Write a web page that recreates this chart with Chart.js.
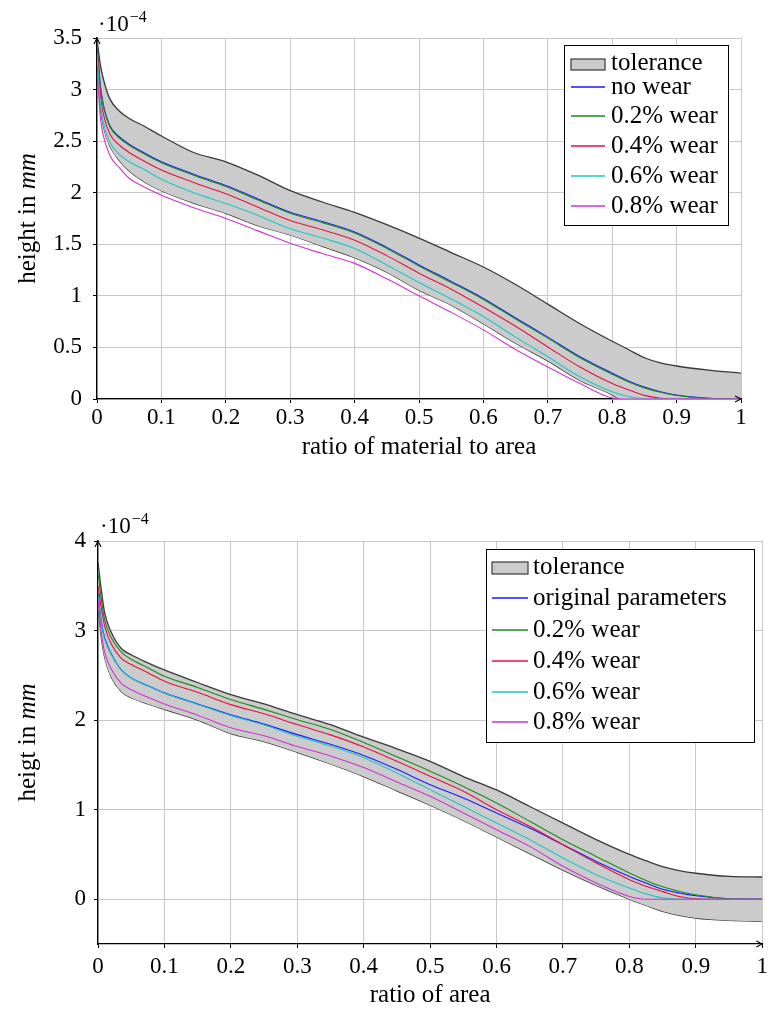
<!DOCTYPE html>
<html>
<head>
<meta charset="utf-8">
<script src="https://cdn.jsdelivr.net/npm/chart.js@4.4.1/dist/chart.umd.min.js"></script>
<style>
  html, body { margin: 0; padding: 0; background: #fff; }
  #wrap { position: relative; width: 773px; height: 1010px; }
  canvas { position: absolute; left: 0; }
  #topChart { top: 0; width: 773px; height: 480px; }
  #bottomChart { top: 480px; width: 773px; height: 530px; }
</style>
</head>
<body>
<div id="wrap">
  <canvas id="topChart" width="773" height="480"></canvas>
  <canvas id="bottomChart" width="773" height="530"></canvas>
</div>
<script>
// shared x positions (ratio), values in units of 1e-4 mm
let xs = [0, 0.005, 0.01, 0.02, 0.035, 0.05, 0.075, 0.1, 0.15, 0.2, 0.25, 0.3, 0.35, 0.4, 0.45,
          0.5, 0.55, 0.6, 0.65, 0.7, 0.75, 0.8, 0.825, 0.85, 0.875, 0.9, 0.95, 1];

// top chart
let tolUpperTop = [3.49, 3.25, 3.10, 2.91, 2.79, 2.72, 2.64, 2.55, 2.39, 2.30, 2.17, 2.02, 1.91, 1.81, 1.69,
                   1.56, 1.42, 1.28, 1.11, 0.92, 0.73, 0.56, 0.48, 0.40, 0.35, 0.32, 0.28, 0.25];
let tolLowerTop = [3.32, 2.84, 2.64, 2.45, 2.31, 2.21, 2.10, 2.02, 1.90, 1.80, 1.68, 1.59, 1.48, 1.37, 1.23,
                   1.055, 0.91, 0.73, 0.54, 0.37, 0.18, 0.04, -0.06, -0.14, -0.19, -0.22, -0.24, -0.25];
let noWearTop   = [3.48, 3.05, 2.85, 2.65, 2.54, 2.47, 2.38, 2.30, 2.18, 2.07, 1.94, 1.81, 1.72, 1.62, 1.47,
                   1.30, 1.14, 0.975, 0.785, 0.60, 0.41, 0.25, 0.175, 0.115, 0.07, 0.038, 0.008, 0];
let wear02Top   = [3.47, 3.04, 2.84, 2.64, 2.53, 2.46, 2.37, 2.29, 2.17, 2.06, 1.93, 1.80, 1.71, 1.61, 1.46,
                   1.29, 1.13, 0.965, 0.775, 0.59, 0.40, 0.24, 0.168, 0.108, 0.065, 0.034, 0.006, 0];
let wear04Top   = [3.42, 2.96, 2.76, 2.57, 2.46, 2.39, 2.30, 2.22, 2.10, 1.99, 1.86, 1.73, 1.64, 1.54, 1.39,
                   1.22, 1.065, 0.89, 0.705, 0.505, 0.31, 0.15, 0.09, 0.035, 0.008, 0, 0, 0];
let wear06Top   = [3.35, 2.88, 2.68, 2.49, 2.37, 2.30, 2.22, 2.13, 2.00, 1.895, 1.78, 1.65, 1.56, 1.46, 1.30,
                   1.13, 0.97, 0.80, 0.60, 0.41, 0.215, 0.07, 0.025, 0.003, 0, 0, 0, 0];
let wear08Top   = [3.22, 2.74, 2.55, 2.36, 2.24, 2.14, 2.05, 1.975, 1.855, 1.75, 1.63, 1.51, 1.41, 1.315, 1.165,
                   1.00, 0.84, 0.67, 0.48, 0.31, 0.15, 0.01, 0, 0, 0, 0, 0, 0];

// bottom chart
let tolUpperBottom = [3.76, 3.45, 3.20, 2.98, 2.80, 2.73, 2.64, 2.56, 2.42, 2.285, 2.18, 2.06, 1.95, 1.81, 1.68,
                      1.54, 1.37, 1.22, 1.035, 0.85, 0.665, 0.50, 0.43, 0.365, 0.32, 0.29, 0.255, 0.248];
let tolLowerBottom = [3.30, 2.92, 2.70, 2.48, 2.32, 2.25, 2.18, 2.12, 2.00, 1.85, 1.76, 1.64, 1.51, 1.37, 1.21,
                      1.05, 0.88, 0.695, 0.51, 0.325, 0.155, 0.0, -0.07, -0.135, -0.18, -0.21, -0.237, -0.248];
let origBottom     = [3.42, 3.10, 2.92, 2.74, 2.56, 2.47, 2.385, 2.304, 2.18, 2.06, 1.955, 1.838, 1.73, 1.605, 1.45,
                      1.279, 1.13, 0.963, 0.795, 0.609, 0.422, 0.255, 0.18, 0.112, 0.07, 0.039, 0.006, 0];
let wear02Bottom   = [3.64, 3.35, 3.12, 2.92, 2.76, 2.68, 2.585, 2.49, 2.365, 2.23, 2.12, 2.005, 1.895, 1.75, 1.59,
                      1.43, 1.26, 1.075, 0.87, 0.665, 0.478, 0.293, 0.21, 0.14, 0.09, 0.05, 0.005, 0];
let wear04Bottom   = [3.50, 3.25, 3.05, 2.85, 2.69, 2.62, 2.53, 2.434, 2.31, 2.173, 2.07, 1.95, 1.835, 1.70, 1.54,
                      1.372, 1.205, 1.00, 0.814, 0.609, 0.404, 0.218, 0.145, 0.085, 0.03, 0.005, 0, 0];
let wear06Bottom   = [3.39, 3.08, 2.90, 2.73, 2.56, 2.47, 2.38, 2.30, 2.175, 2.05, 1.945, 1.82, 1.71, 1.58, 1.41,
                      1.223, 1.037, 0.851, 0.665, 0.46, 0.274, 0.125, 0.06, 0.015, 0, 0, 0, 0];
let wear08Bottom   = [3.35, 2.98, 2.76, 2.57, 2.41, 2.34, 2.255, 2.18, 2.055, 1.915, 1.825, 1.705, 1.60, 1.47, 1.31,
                      1.149, 0.963, 0.777, 0.59, 0.367, 0.181, 0.031, 0, 0, 0, 0, 0, 0];

let labelsTop = ['no wear', '0.2% wear', '0.4% wear', '0.6% wear', '0.8% wear'];
let labelsBottom = ['original parameters', '0.2% wear', '0.4% wear', '0.6% wear', '0.8% wear'];
let lineColors = ['#1a1aff', '#1c8a1c', '#e6103e', '#22c5c9', '#cc36d2'];

Chart.defaults.font.family = '"Liberation Serif", serif';
Chart.defaults.color = '#000';

function pts(ys) {
  return xs.map(function(x, i) { return {x: x, y: ys[i]}; });
}

function buildDatasets(upper, lower, lines, labels) {
  let ds = [{
    label: 'tolerance', data: pts(upper), borderColor: '#3a3a3a', backgroundColor: '#cbcbcb',
    borderWidth: 1.3, fill: '+1', order: 10
  }, {
    label: 'tolerance lower', data: pts(lower), borderColor: '#3a3a3a',
    borderWidth: 1.3, fill: false, order: 10, hideInLegend: true
  }];
  lines.forEach(function(ys, i) {
    ds.push({label: labels[i], data: pts(ys), borderColor: lineColors[i], borderWidth: 1.1, fill: false, order: 5 - i});
  });
  return ds;
}

// axis arrows, exponent label, y title with italic unit, boxed legend
const decor = {
  id: 'decor',
  afterDraw(chart, args, o) {
    const ctx = chart.ctx;
    const a = chart.chartArea;
    ctx.save();
    ctx.strokeStyle = '#000';
    ctx.lineWidth = 1.1;
    ctx.beginPath();
    ctx.moveTo(a.left - 3, a.top + 6); ctx.lineTo(a.left, a.top); ctx.lineTo(a.left + 3, a.top + 6);
    ctx.moveTo(a.right - 6, a.bottom - 3); ctx.lineTo(a.right, a.bottom); ctx.lineTo(a.right - 6, a.bottom + 3);
    ctx.stroke();

    ctx.fillStyle = '#000';
    ctx.textAlign = 'left';
    ctx.textBaseline = 'alphabetic';
    ctx.font = '23px "Liberation Serif"';
    ctx.fillText('\u00b710', a.left + o.expX, a.top - o.expGap);
    let w = ctx.measureText('\u00b710').width;
    ctx.font = '16px "Liberation Serif"';
    ctx.fillText('\u22124', a.left + o.expX + w + 1, a.top - o.expGap - 9);

    // y title
    ctx.save();
    ctx.translate(o.yTitleX, (a.top + a.bottom) / 2);
    ctx.rotate(-Math.PI / 2);
    ctx.textBaseline = 'middle';
    ctx.font = '25px "Liberation Serif"';
    let w1 = ctx.measureText(o.yTitle[0]).width;
    ctx.font = 'italic 25px "Liberation Serif"';
    let w2 = ctx.measureText(o.yTitle[1]).width;
    let start = -(w1 + w2) / 2;
    ctx.font = '25px "Liberation Serif"';
    ctx.fillText(o.yTitle[0], start, 0);
    ctx.font = 'italic 25px "Liberation Serif"';
    ctx.fillText(o.yTitle[1], start + w1, 0);
    ctx.restore();

    // legend
    const L = o.legend;
    ctx.fillStyle = '#fff';
    ctx.fillRect(L.x, L.y, L.w, L.h);
    ctx.strokeStyle = '#000';
    ctx.lineWidth = 1;
    ctx.strokeRect(L.x + 0.5, L.y + 0.5, L.w, L.h);
    ctx.font = '25px "Liberation Serif"';
    let row = 0;
    chart.data.datasets.forEach(function(ds) {
      if (ds.hideInLegend) return;
      const yb = L.baselines[row++];
      if (ds.fill) {
        ctx.fillStyle = ds.backgroundColor;
        ctx.fillRect(L.sampleX, yb - L.swatchH, L.sampleW, L.swatchH);
        ctx.strokeStyle = ds.borderColor;
        ctx.lineWidth = 1.2;
        ctx.strokeRect(L.sampleX, yb - L.swatchH, L.sampleW, L.swatchH);
      } else {
        ctx.strokeStyle = ds.borderColor;
        ctx.lineWidth = 1.3;
        ctx.beginPath();
        ctx.moveTo(L.sampleX, yb - 7);
        ctx.lineTo(L.sampleX + L.sampleW, yb - 7);
        ctx.stroke();
      }
      ctx.fillStyle = '#000';
      ctx.fillText(ds.label, L.textX, yb);
    });
    ctx.restore();
  }
};

function makeScales(o) {
  const grid = {color: '#c8c8c8', lineWidth: 1, tickLength: 4, tickColor: '#000'};
  const border = {color: '#000', width: 1.3};
  return {
    x: {
      type: 'linear', min: 0, max: 1,
      ticks: {stepSize: 0.1, padding: o.xPad, font: {size: 23}, maxRotation: 0, autoSkip: false,
              callback: function(v) { return String(+v.toFixed(1)); }},
      grid: grid, border: border,
      title: {display: true, text: o.xTitle, font: {size: 25}, padding: {top: 0, bottom: o.xTitlePad}},
      afterFit: function(s) { s.height = o.xHeight; }
    },
    y: {
      type: 'linear', min: o.yMin, max: o.yMax,
      ticks: {stepSize: o.yStep, padding: o.yPad, font: {size: 23},
              callback: function(v) { return String(+v.toFixed(1)); }},
      grid: grid, border: border,
      afterBuildTicks: function(s) { s.ticks = s.ticks.filter(function(t) { return t.value >= 0; }); },
      afterFit: function(s) { s.width = o.yWidth; }
    }
  };
}

let topChart = new Chart(document.getElementById('topChart'), {
  type: 'line',
  data: {datasets: buildDatasets(tolUpperTop, tolLowerTop,
    [noWearTop, wear02Top, wear04Top, wear06Top, wear08Top], labelsTop)},
  options: {
    responsive: false, animation: false,
    layout: {padding: {top: 38, right: 32, bottom: 0, left: 0}},
    elements: {point: {radius: 0}, line: {cubicInterpolationMode: 'monotone'}},
    scales: makeScales({xTitle: 'ratio of material to area', xPad: 1, xTitlePad: 18, xHeight: 81,
                        yMin: 0, yMax: 3.5, yStep: 0.5, yPad: 11, yWidth: 97}),
    plugins: {
      legend: {display: false}, tooltip: {enabled: false},
      decor: {yTitle: ['height in ', 'mm'], yTitleX: 28, expX: 1, expGap: 7,
        legend: {x: 564, y: 45, w: 164, h: 180, sampleX: 571, sampleW: 34, textX: 611, swatchH: 11,
                 baselines: [70, 94, 123, 153, 183, 213]}}
    }
  },
  plugins: [decor]
});

let bottomChart = new Chart(document.getElementById('bottomChart'), {
  type: 'line',
  data: {datasets: buildDatasets(tolUpperBottom, tolLowerBottom,
    [origBottom, wear02Bottom, wear04Bottom, wear06Bottom, wear08Bottom], labelsBottom)},
  options: {
    responsive: false, animation: false,
    layout: {padding: {top: 61, right: 5, bottom: 0, left: 0}},
    elements: {point: {radius: 0}, line: {cubicInterpolationMode: 'monotone'}},
    scales: makeScales({xTitle: 'ratio of area', xPad: 5, xTitlePad: 0, xHeight: 66,
                        yMin: -0.5, yMax: 4, yStep: 1, yPad: 8, yWidth: 98}),
    plugins: {
      legend: {display: false}, tooltip: {enabled: false},
      decor: {yTitle: ['heigt in ', 'mm'], yTitleX: 28, expX: 2, expGap: 8,
        legend: {x: 486, y: 69, w: 268, h: 193, sampleX: 492, sampleW: 36, textX: 533, swatchH: 12,
                 baselines: [94, 125, 157, 188, 219, 249]}}
    }
  },
  plugins: [decor]
});
</script>
</body>
</html>
